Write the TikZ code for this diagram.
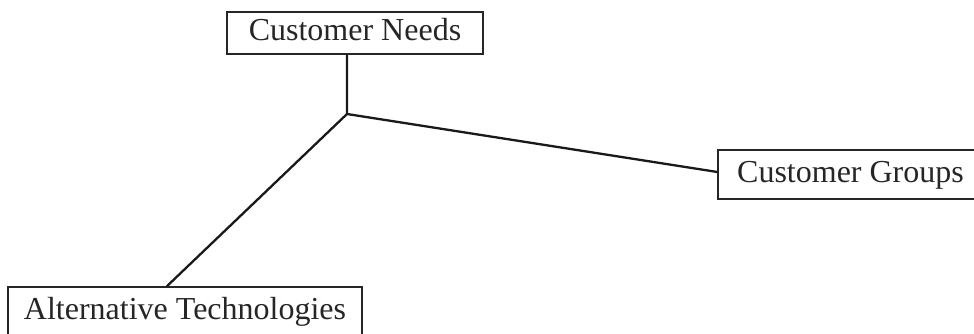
\documentclass[tikz,border=0pt]{standalone}
\usepackage{fontspec}
\setmainfont{Liberation Serif}
\usetikzlibrary{calc}
\begin{document}
\begin{tikzpicture}[x=0.5pt,y=-0.5pt,
  labelbox/.style={draw=black!85, line width=0.75pt, rectangle, inner sep=0pt,
    font=\fontsize{16}{19}\selectfont, text=black!85,
    text height=0.78em, text depth=0pt},
  link/.style={draw=black!90, line width=1.15pt}]
\useasboundingbox (0,0) rectangle (974,333);
% the three labelled boxes
\node[labelbox, minimum width=128pt, minimum height=21pt] (needs) at (355,33) {Customer Needs};
\node[labelbox, minimum width=132.5pt, minimum height=24.5pt] (groups) at (850.5,174.5) {Customer Groups};
\node[labelbox, minimum width=177pt, minimum height=24.5pt] (alt) at (185,311.5) {Alternative Technologies};
% hub where the three links meet
\coordinate (hub) at (347,114);
\draw[link] (hub |- needs.south) -- (hub) -- ($(groups.north west)!0.45!(groups.south west)$);
\draw[link] (hub) -- ($(alt.north west)!0.449!(alt.north east)$);
\end{tikzpicture}
\end{document}
